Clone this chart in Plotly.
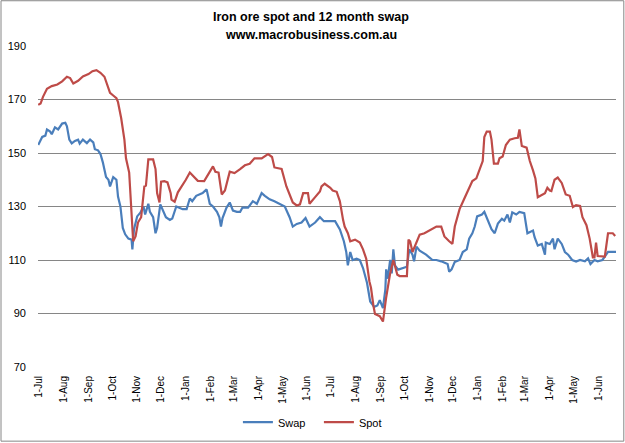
import plotly.graph_objects as go

# ---- data ----
spot_dates = [
    "2011-06-30", "2011-07-03", "2011-07-06", "2011-07-09", "2011-07-11", "2011-07-17", "2011-07-24",
    "2011-07-30", "2011-08-05", "2011-08-09", "2011-08-13", "2011-08-19", "2011-08-25", "2011-09-01",
    "2011-09-06", "2011-09-11", "2011-09-16", "2011-09-21", "2011-09-24", "2011-09-28", "2011-10-02",
    "2011-10-06", "2011-10-08", "2011-10-12", "2011-10-16", "2011-10-18", "2011-10-22", "2011-10-25",
    "2011-10-27", "2011-10-30", "2011-11-02", "2011-11-06", "2011-11-10", "2011-11-12", "2011-11-15",
    "2011-11-21", "2011-11-24", "2011-11-26", "2011-11-29", "2011-12-01", "2011-12-05", "2011-12-09",
    "2011-12-13", "2011-12-14", "2011-12-18", "2011-12-22", "2011-12-27", "2012-01-01", "2012-01-06",
    "2012-01-12", "2012-01-16", "2012-01-24", "2012-01-31", "2012-02-04", "2012-02-07", "2012-02-11",
    "2012-02-15", "2012-02-19", "2012-02-25", "2012-03-02", "2012-03-09", "2012-03-15", "2012-03-21",
    "2012-03-27", "2012-04-05", "2012-04-13", "2012-04-18", "2012-04-21", "2012-04-30", "2012-05-06",
    "2012-05-14", "2012-05-19", "2012-05-23", "2012-05-27", "2012-06-02", "2012-06-04", "2012-06-11",
    "2012-06-17", "2012-06-19", "2012-06-23", "2012-06-30", "2012-07-03", "2012-07-08", "2012-07-12",
    "2012-07-16", "2012-07-18", "2012-07-22", "2012-07-25", "2012-07-31", "2012-08-06", "2012-08-10",
    "2012-08-14", "2012-08-18", "2012-08-20", "2012-08-23", "2012-08-25", "2012-08-31", "2012-09-04",
    "2012-09-08", "2012-09-13", "2012-09-17", "2012-09-18", "2012-09-22", "2012-09-25", "2012-10-04",
    "2012-10-06", "2012-10-08", "2012-10-11", "2012-10-15", "2012-10-20", "2012-10-26", "2012-11-01",
    "2012-11-10", "2012-11-16", "2012-11-20", "2012-11-26", "2012-11-30", "2012-12-03", "2012-12-09",
    "2012-12-15", "2012-12-21", "2012-12-25", "2012-12-30", "2013-01-03", "2013-01-07", "2013-01-09",
    "2013-01-12", "2013-01-16", "2013-01-18", "2013-01-21", "2013-01-26", "2013-01-28", "2013-02-01",
    "2013-02-05", "2013-02-10", "2013-02-16", "2013-02-20", "2013-02-22", "2013-02-25", "2013-03-03",
    "2013-03-07", "2013-03-11", "2013-03-14", "2013-03-17", "2013-03-22", "2013-03-26", "2013-03-29",
    "2013-04-01", "2013-04-03", "2013-04-07", "2013-04-11", "2013-04-16", "2013-04-21", "2013-04-26",
    "2013-04-30", "2013-05-04", "2013-05-09", "2013-05-12", "2013-05-17", "2013-05-21", "2013-05-25",
    "2013-05-27", "2013-05-29", "2013-05-31", "2013-06-09", "2013-06-13", "2013-06-19", "2013-06-22",
]
spot_values = [
    168.0, 168.5, 171.0, 172.7, 174.0, 175.0, 175.6,
    176.8, 178.5, 178.0, 176.0, 177.0, 178.6, 179.5,
    180.6, 181.0, 180.0, 178.5, 176.0, 172.5, 171.5,
    170.5, 169.0, 163.0, 155.0, 148.0, 142.7, 128.0,
    117.0, 118.8, 124.0, 126.0, 137.5, 137.8, 147.6,
    147.6, 144.0, 135.0, 131.5, 139.3, 139.5, 139.0,
    135.0, 132.6, 131.8, 135.3, 137.5, 140.0, 142.7,
    141.0, 139.6, 139.5, 143.0, 145.0, 143.0, 142.7,
    134.5, 136.0, 143.0, 142.5, 144.0, 145.4, 146.0,
    148.0, 148.0, 149.6, 148.5, 144.6, 144.0, 137.5,
    131.5, 130.4, 130.8, 135.0, 135.0, 131.0, 133.5,
    135.6, 137.5, 138.5, 137.0, 136.0, 135.5, 132.0,
    125.0, 122.5, 120.0, 117.0, 117.6, 116.5, 114.0,
    110.5, 102.0, 99.6, 93.0, 89.8, 89.0, 87.0,
    96.0, 105.0, 110.0, 109.0, 104.5, 104.0, 104.0,
    117.6, 117.0, 113.0, 115.8, 119.5, 120.0, 121.0,
    122.5, 122.5, 118.8, 117.0, 116.0, 122.5, 129.0,
    133.0, 136.6, 139.5, 140.5, 144.0, 147.0, 156.0,
    158.0, 158.0, 155.0, 146.0, 146.0, 148.0, 148.7,
    153.0, 155.0, 155.5, 155.7, 158.8, 152.6, 152.0,
    147.0, 143.5, 140.5, 133.5, 134.2, 135.0, 137.0,
    136.0, 135.8, 140.0, 140.8, 138.8, 134.5, 134.0,
    129.8, 130.5, 130.2, 126.0, 123.0, 118.0, 111.0,
    111.0, 116.5, 111.5, 111.3, 120.0, 120.0, 119.0,
]

swap_dates = [
    "2011-06-30", "2011-07-05", "2011-07-09", "2011-07-11", "2011-07-15", "2011-07-17", "2011-07-21",
    "2011-07-25", "2011-07-30", "2011-08-03", "2011-08-05", "2011-08-08", "2011-08-11", "2011-08-15",
    "2011-08-19", "2011-08-21", "2011-08-25", "2011-08-30", "2011-09-03", "2011-09-07", "2011-09-09",
    "2011-09-13", "2011-09-16", "2011-09-19", "2011-09-23", "2011-09-26", "2011-09-28", "2011-10-02",
    "2011-10-06", "2011-10-08", "2011-10-11", "2011-10-14", "2011-10-17", "2011-10-21", "2011-10-25",
    "2011-10-26", "2011-10-28", "2011-11-01", "2011-11-05", "2011-11-09", "2011-11-11", "2011-11-15",
    "2011-11-17", "2011-11-21", "2011-11-24", "2011-11-26", "2011-11-30", "2011-12-04", "2011-12-07",
    "2011-12-12", "2011-12-15", "2011-12-20", "2011-12-24", "2011-12-28", "2012-01-02", "2012-01-06",
    "2012-01-09", "2012-01-14", "2012-01-22", "2012-01-27", "2012-01-31", "2012-02-04", "2012-02-09",
    "2012-02-12", "2012-02-14", "2012-02-16", "2012-02-21", "2012-02-25", "2012-02-29", "2012-03-05",
    "2012-03-09", "2012-03-12", "2012-03-19", "2012-03-25", "2012-03-30", "2012-04-05", "2012-04-09",
    "2012-04-15", "2012-04-21", "2012-04-28", "2012-05-04", "2012-05-10", "2012-05-14", "2012-05-19",
    "2012-05-25", "2012-05-30", "2012-06-04", "2012-06-11", "2012-06-17", "2012-06-22", "2012-07-06",
    "2012-07-12", "2012-07-17", "2012-07-20", "2012-07-22", "2012-07-25", "2012-07-28", "2012-08-02",
    "2012-08-06", "2012-08-10", "2012-08-15", "2012-08-19", "2012-08-24", "2012-08-28", "2012-08-31",
    "2012-09-04", "2012-09-07", "2012-09-08", "2012-09-10", "2012-09-13", "2012-09-15", "2012-09-17",
    "2012-09-19", "2012-09-23", "2012-09-29", "2012-10-04", "2012-10-07", "2012-10-11", "2012-10-13",
    "2012-10-16", "2012-10-20", "2012-10-23", "2012-10-28", "2012-11-01", "2012-11-05", "2012-11-10",
    "2012-11-16", "2012-11-24", "2012-11-26", "2012-11-29", "2012-12-03", "2012-12-09", "2012-12-13",
    "2012-12-18", "2012-12-21", "2012-12-25", "2012-12-28", "2012-12-31", "2013-01-06", "2013-01-09",
    "2013-01-13", "2013-01-18", "2013-01-22", "2013-01-26", "2013-01-31", "2013-02-03", "2013-02-07",
    "2013-02-10", "2013-02-13", "2013-02-18", "2013-02-22", "2013-02-28", "2013-03-04", "2013-03-11",
    "2013-03-13", "2013-03-17", "2013-03-22", "2013-03-26", "2013-03-27", "2013-04-01", "2013-04-05",
    "2013-04-07", "2013-04-11", "2013-04-16", "2013-04-20", "2013-04-24", "2013-04-29", "2013-05-04",
    "2013-05-09", "2013-05-15", "2013-05-19", "2013-05-22", "2013-05-27", "2013-05-31", "2013-06-06",
    "2013-06-13", "2013-06-23",
]
swap_values = [
    153.0, 156.0, 156.5, 158.8, 158.0, 157.0, 159.6,
    158.8, 161.0, 161.3, 160.0, 155.0, 153.6, 154.5,
    155.0, 153.5, 155.0, 153.7, 155.0, 154.0, 151.4,
    151.0, 149.6, 146.5, 141.0, 140.0, 137.5, 141.0,
    140.0, 133.7, 130.0, 122.0, 119.6, 118.0, 117.6,
    114.0, 121.4, 126.3, 127.7, 130.0, 127.0, 131.0,
    128.0, 126.0, 120.0, 122.0, 130.8, 127.7, 126.0,
    125.0, 125.5, 130.0, 129.6, 129.0, 129.0, 133.0,
    132.0, 134.0, 135.0, 136.4, 131.0, 130.0, 128.0,
    126.0, 122.5, 125.7, 129.6, 131.5, 128.5, 128.0,
    128.0, 129.6, 129.6, 132.0, 131.0, 135.0, 134.0,
    132.7, 132.0, 131.0, 130.0, 126.0, 122.5, 123.5,
    124.0, 125.7, 122.5, 124.0, 126.0, 124.5, 124.5,
    121.4, 117.0, 113.0, 108.0, 113.0, 110.0, 110.5,
    110.0, 107.0, 101.5, 94.5, 92.5, 93.0, 95.0,
    92.0, 99.0, 106.5, 103.0, 110.0, 105.0, 114.0,
    108.0, 106.4, 107.0, 107.5, 114.0, 112.0, 109.5,
    115.0, 113.5, 113.0, 112.0, 111.0, 110.0, 110.0,
    109.5, 108.5, 105.6, 106.5, 109.3, 110.0, 113.0,
    114.0, 118.0, 120.0, 122.5, 126.3, 127.0, 128.0,
    125.0, 121.5, 120.0, 123.6, 125.4, 124.7, 127.0,
    124.0, 127.8, 127.0, 128.0, 127.5, 120.0, 121.0,
    118.5, 115.4, 116.0, 112.0, 116.5, 116.0, 118.0,
    114.0, 118.0, 116.0, 113.0, 112.0, 110.0, 109.4,
    110.0, 109.5, 110.6, 108.5, 110.0, 109.5, 110.0,
    113.0, 113.0,
]

y_ticks = [70, 90, 110, 130, 150, 170, 190]
title_lines = ["Iron ore spot and 12 month swap", "www.macrobusiness.com.au"]

FONT = "Liberation Sans, Arial, sans-serif"

fig = go.Figure()
fig.add_trace(go.Scatter(x=swap_dates, y=swap_values, name="Swap", mode="lines",
                         line=dict(color="#4A7EBB", width=2.2)))
fig.add_trace(go.Scatter(x=spot_dates, y=spot_values, name="Spot", mode="lines",
                         line=dict(color="#BE4B48", width=2.2)))

fig.update_layout(
    width=625, height=443,
    margin=dict(l=38, r=9, t=46, b=76, autoexpand=False),
    paper_bgcolor="white", plot_bgcolor="white",
    font=dict(family=FONT, size=11, color="black"),
    showlegend=True,
    legend=dict(orientation="h", x=0.486, y=-0.172, xanchor="center", yanchor="middle",
                font=dict(family=FONT, size=11, color="black"),
                entrywidth=36, bgcolor="rgba(0,0,0,0)"),
    xaxis=dict(
        type="date", automargin=False,
        range=["2011-06-29 18:00", "2013-06-23 00:00"],
        tickmode="linear", tick0="2011-07-01", dtick="M1",
        tickformat="%-d-%b", tickangle=-90,
        showgrid=False, showline=False, zeroline=False,
        ticks="", ticklabelstandoff=6,
        tickfont=dict(family=FONT, size=10, color="black"),
    ),
    yaxis=dict(
        range=[70, 190], tickmode="array", tickvals=y_ticks, automargin=False,
        showgrid=True, gridcolor="#868686", gridwidth=1,
        showline=False, zeroline=False, ticks="", ticklabelstandoff=11,
        tickfont=dict(family=FONT, size=11, color="black"),
    ),
)

for i, t in enumerate(title_lines):
    fig.add_annotation(text="<b>%s</b>" % t, xref="paper", yref="paper",
                       x=0.472, y=[1.0906, 1.034][i], xanchor="center", yanchor="middle",
                       showarrow=False, font=dict(family=FONT, size=12.5, color="black"))

# outer chart border
fig.add_shape(type="rect", xref="paper", yref="paper",
              x0=-0.0640, x1=1.0135, y0=-0.231, y1=1.141,
              line=dict(color="#868686", width=1), fillcolor="rgba(0,0,0,0)", layer="below")

fig.write_html("out.html", config={"displayModeBar": False},
               post_script="document.body.style.margin='0px';")
